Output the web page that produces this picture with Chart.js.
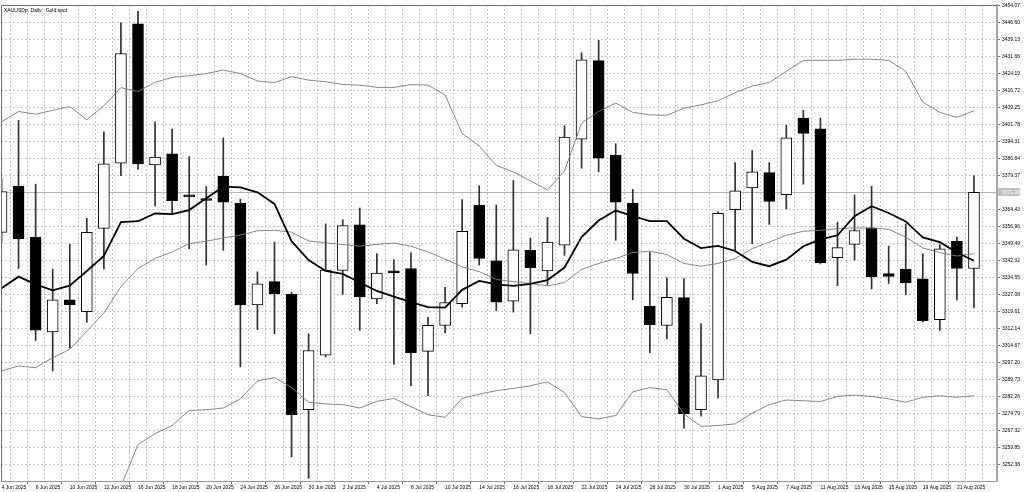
<!DOCTYPE html>
<html>
<head>
<meta charset="utf-8">
<title>XAUUSDp Daily</title>
<script src="https://cdn.jsdelivr.net/npm/chart.js@4.4.0/dist/chart.umd.min.js"></script>
<style>
  html, body { margin: 0; padding: 0; background: #fff; }
  #wrap { width: 1024px; height: 492px; }
</style>
</head>
<body>
<div id="wrap"><canvas id="chart" width="1024" height="492"></canvas></div>
<script>
// daily bars, 4 Jun 2025 - 22 Aug 2025
const dates = [
  '4 Jun 2025', '5 Jun 2025', '6 Jun 2025', '9 Jun 2025', '10 Jun 2025', '11 Jun 2025', '12 Jun 2025', '13 Jun 2025',
  '16 Jun 2025', '17 Jun 2025', '18 Jun 2025', '19 Jun 2025', '20 Jun 2025', '23 Jun 2025', '24 Jun 2025', '25 Jun 2025',
  '26 Jun 2025', '27 Jun 2025', '30 Jun 2025', '1 Jul 2025', '2 Jul 2025', '3 Jul 2025', '4 Jul 2025', '7 Jul 2025',
  '8 Jul 2025', '9 Jul 2025', '10 Jul 2025', '11 Jul 2025', '14 Jul 2025', '15 Jul 2025', '16 Jul 2025', '17 Jul 2025',
  '18 Jul 2025', '21 Jul 2025', '22 Jul 2025', '23 Jul 2025', '24 Jul 2025', '25 Jul 2025', '28 Jul 2025', '29 Jul 2025',
  '30 Jul 2025', '31 Jul 2025', '1 Aug 2025', '4 Aug 2025', '5 Aug 2025', '6 Aug 2025', '7 Aug 2025', '8 Aug 2025',
  '11 Aug 2025', '12 Aug 2025', '13 Aug 2025', '14 Aug 2025', '15 Aug 2025', '18 Aug 2025', '19 Aug 2025', '20 Aug 2025',
  '21 Aug 2025', '22 Aug 2025'
];

const opens = [
  3354.4, 3374.7, 3352.3, 3310.6, 3324.7, 3319.5, 3356.1, 3384.9, 3446.2, 3384.1,
  3389.0, 3370.2, 3368.6, 3379.1, 3367.2, 3322.5, 3332.7, 3327.1, 3276.3, 3300.3,
  3337.6, 3357.7, 3325.1, 3337.5, 3338.5, 3302.0, 3313.4, 3323.0, 3366.3, 3341.9,
  3324.1, 3346.5, 3337.4, 3348.7, 3395.4, 3430.0, 3388.3, 3367.3, 3321.8, 3313.4,
  3325.7, 3276.3, 3289.4, 3364.4, 3374.0, 3380.7, 3371.0, 3404.7, 3400.0, 3343.2,
  3349.1, 3356.4, 3336.2, 3338.1, 3333.9, 3316.0, 3350.5, 3338.5
];
const highs = [
  3378.0, 3403.7, 3375.6, 3338.2, 3349.1, 3360.6, 3398.6, 3446.6, 3451.7, 3403.0,
  3399.9, 3387.7, 3374.6, 3396.0, 3369.0, 3337.0, 3350.1, 3328.0, 3309.7, 3358.1,
  3360.0, 3365.1, 3345.0, 3342.4, 3345.5, 3317.0, 3330.2, 3368.8, 3374.9, 3366.4,
  3377.2, 3351.9, 3361.0, 3401.3, 3433.4, 3438.9, 3393.4, 3373.3, 3345.5, 3334.4,
  3334.1, 3314.2, 3363.5, 3385.1, 3390.4, 3385.1, 3401.5, 3408.1, 3404.7, 3358.9,
  3370.8, 3374.7, 3348.4, 3358.1, 3345.0, 3349.0, 3352.3, 3379.3
];
const lows = [
  3350.0, 3338.5, 3306.8, 3293.4, 3303.6, 3314.8, 3338.2, 3379.3, 3382.1, 3365.9,
  3362.5, 3347.2, 3340.0, 3346.5, 3295.2, 3311.6, 3309.7, 3255.6, 3246.1, 3299.5,
  3327.1, 3311.3, 3323.0, 3296.3, 3286.9, 3282.5, 3310.1, 3321.5, 3340.0, 3319.9,
  3319.3, 3309.7, 3331.2, 3344.3, 3382.6, 3381.1, 3350.9, 3324.7, 3301.4, 3307.5,
  3268.2, 3273.5, 3281.5, 3346.5, 3349.4, 3357.9, 3364.7, 3375.6, 3340.5, 3330.9,
  3342.2, 3329.5, 3331.9, 3326.9, 3315.0, 3311.2, 3324.7, 3321.3
];
const closes = [
  3372.3, 3351.5, 3311.3, 3324.7, 3322.6, 3354.4, 3384.5, 3433.1, 3384.5, 3387.5,
  3368.3, 3370.0, 3368.4, 3367.7, 3322.5, 3331.7, 3327.3, 3274.2, 3302.4, 3337.8,
  3357.4, 3326.0, 3336.5, 3336.5, 3301.4, 3313.5, 3323.5, 3354.8, 3342.9, 3323.7,
  3346.7, 3338.9, 3350.1, 3396.3, 3430.3, 3387.1, 3367.7, 3336.3, 3313.8, 3325.8,
  3274.5, 3291.2, 3362.8, 3372.7, 3381.0, 3368.0, 3396.0, 3397.9, 3341.1, 3347.7,
  3355.2, 3334.9, 3335.0, 3332.3, 3315.5, 3347.1, 3338.5, 3371.96
];

// indicator lines
const maLine = [
  3329.8, 3334.9, 3331.5, 3328.9, 3330.9, 3337.4, 3344.0, 3358.9, 3359.3, 3362.7,
  3362.4, 3364.2, 3369.4, 3374.5, 3374.2, 3372.0, 3366.9, 3350.5, 3342.2, 3337.4,
  3336.1, 3332.3, 3328.6, 3326.1, 3323.7, 3321.5, 3321.3, 3329.1, 3333.0, 3331.5,
  3330.8, 3331.7, 3333.4, 3338.9, 3352.3, 3359.6, 3364.0, 3361.6, 3359.3, 3359.3,
  3351.6, 3347.5, 3348.4, 3346.2, 3341.4, 3339.5, 3342.4, 3348.3, 3351.3, 3353.1,
  3361.5, 3365.9, 3362.9, 3359.2, 3352.2, 3350.1, 3345.5, 3341.9
];
const bandUpper = [
  3403.0, 3407.6, 3406.4, 3408.1, 3409.8, 3404.0, 3410.1, 3418.1, 3416.4, 3420.4,
  3422.6, 3423.3, 3424.3, 3425.8, 3424.3, 3421.0, 3420.3, 3422.9, 3421.4, 3420.7,
  3419.5, 3419.2, 3418.2, 3418.2, 3419.4, 3419.2, 3414.9, 3397.9, 3392.4, 3383.9,
  3381.0, 3377.1, 3373.1, 3381.4, 3402.5, 3407.6, 3411.3, 3407.2, 3406.1, 3405.9,
  3409.1, 3410.5, 3412.3, 3415.9, 3418.8, 3420.3, 3425.3, 3430.1, 3430.1, 3430.1,
  3430.6, 3430.6, 3430.1, 3425.3, 3411.7, 3407.2, 3405.0, 3407.9
];
const bandMiddle = [
  3293.4, 3295.6, 3294.8, 3299.2, 3302.9, 3310.9, 3318.9, 3330.5, 3338.5, 3342.9,
  3345.8, 3349.4, 3350.5, 3351.9, 3353.2, 3355.1, 3355.3, 3354.5, 3350.6, 3349.8,
  3349.0, 3348.3, 3349.1, 3349.7, 3348.3, 3345.8, 3342.6, 3339.2, 3337.1, 3333.7,
  3332.7, 3331.9, 3330.8, 3332.3, 3338.1, 3340.7, 3342.9, 3345.5, 3346.1, 3344.6,
  3340.7, 3339.5, 3340.7, 3342.9, 3347.2, 3350.1, 3353.1, 3354.9, 3355.3, 3356.0,
  3356.3, 3356.3, 3355.7, 3352.3, 3347.5, 3345.5, 3344.0, 3345.0
];
const bandLower = [
  3184.0, 3184.0, 3183.0, 3190.0, 3196.0, 3218.0, 3227.0, 3242.6, 3261.0, 3265.8,
  3269.4, 3276.0, 3276.3, 3277.1, 3281.1, 3289.0, 3290.5, 3286.1, 3279.6, 3278.9,
  3278.6, 3277.1, 3280.0, 3281.3, 3277.7, 3274.1, 3273.0, 3281.3, 3283.2, 3284.7,
  3285.7, 3286.9, 3288.6, 3283.9, 3273.3, 3272.3, 3273.8, 3284.2, 3286.1, 3285.1,
  3274.5, 3269.0, 3269.4, 3270.1, 3274.8, 3278.6, 3280.6, 3280.3, 3279.9, 3282.2,
  3282.8, 3282.2, 3281.1, 3279.6, 3281.8, 3282.5, 3281.8, 3282.5
];

const priceTicks = [
  3252.38, 3259.85, 3267.32, 3274.79, 3282.26, 3289.73, 3297.20, 3304.67, 3312.14, 3319.61,
  3327.08, 3334.55, 3342.02, 3349.49, 3356.96, 3364.43, 3371.90, 3379.37, 3386.84, 3394.31,
  3401.78, 3409.25, 3416.72, 3424.19, 3431.66, 3439.13, 3446.60, 3454.07
];

const chartTitle = 'XAUUSDp, Daily:  Gold spot';
const fontFamily = "'Liberation Sans', Arial, sans-serif";

const bodies = dates.map((d, i) => ({ x: i, y: [opens[i], closes[i]] }));
const wicks = dates.map((d, i) => ({ x: i, y: [lows[i], highs[i]] }));
const bodyColors = dates.map((d, i) => closes[i] >= opens[i] ? '#ffffff' : '#000000');
const toPoints = arr => arr.map((v, i) => ({ x: i, y: v }));

// frame, title, bid line and bid label
const chartFrame = {
  id: 'chartFrame',
  beforeDatasetsDraw(chart) {
    const { ctx, chartArea: a, scales: { y } } = chart;
    const py = Math.round(y.getPixelForValue(closes[closes.length - 1])) + 0.5;
    ctx.save();
    ctx.strokeStyle = '#b4b4b4';
    ctx.lineWidth = 1;
    ctx.beginPath();
    ctx.moveTo(a.left, py);
    ctx.lineTo(a.right, py);
    ctx.stroke();
    ctx.restore();
  },
  afterDraw(chart) {
    const { ctx, chartArea: a, scales: { y } } = chart;
    ctx.save();
    ctx.strokeStyle = '#6e6e6e';
    ctx.lineWidth = 1;
    ctx.beginPath();
    ctx.moveTo(a.left + 0.5, a.bottom);
    ctx.lineTo(a.left + 0.5, a.top + 0.5);
    ctx.lineTo(a.right, a.top + 0.5);
    ctx.stroke();

    ctx.fillStyle = '#000';
    ctx.font = '5px ' + fontFamily;
    ctx.textBaseline = 'top';
    ctx.textAlign = 'left';
    ctx.fillText(chartTitle, a.left + 3, a.top + 3);

    const last = closes[closes.length - 1];
    const py = Math.round(y.getPixelForValue(last));
    ctx.fillStyle = '#c0c0c0';
    ctx.fillRect(a.right + 1, py - 4, 22, 8);
    ctx.fillStyle = '#ffffff';
    ctx.textBaseline = 'middle';
    ctx.fillText(last.toFixed(2), a.right + 5, py + 0.5);
    ctx.restore();
  }
};

const ctx = document.getElementById('chart').getContext('2d');

const myChart = new Chart(ctx, {
  type: 'bar',
  data: {
    datasets: [
      {
        type: 'line',
        label: 'MA',
        data: toPoints(maLine),
        borderColor: '#000000',
        borderWidth: 1.8,
        pointRadius: 0,
        tension: 0,
        order: 0
      },
      {
        type: 'line',
        label: 'Upper band',
        data: toPoints(bandUpper),
        borderColor: '#7a7a7a',
        borderWidth: 0.9,
        pointRadius: 0,
        tension: 0,
        order: 0
      },
      {
        type: 'line',
        label: 'Middle band',
        data: toPoints(bandMiddle),
        borderColor: '#7a7a7a',
        borderWidth: 0.9,
        pointRadius: 0,
        tension: 0,
        order: 0
      },
      {
        type: 'line',
        label: 'Lower band',
        data: toPoints(bandLower),
        borderColor: '#7a7a7a',
        borderWidth: 0.9,
        pointRadius: 0,
        tension: 0,
        order: 0
      },
      {
        label: 'Body',
        data: bodies,
        backgroundColor: bodyColors,
        borderColor: '#000000',
        borderWidth: 1,
        borderSkipped: false,
        barThickness: 11,
        minBarLength: 2,
        grouped: false,
        order: 1
      },
      {
        label: 'Wick',
        data: wicks,
        backgroundColor: '#303030',
        borderWidth: 0,
        barThickness: 1,
        grouped: false,
        order: 2
      }
    ]
  },
  options: {
    responsive: false,
    animation: false,
    layout: { padding: { left: 1, top: 1, right: 0, bottom: 0 } },
    plugins: {
      legend: { display: false },
      tooltip: { enabled: false }
    },
    scales: {
      x: {
        type: 'linear',
        min: -0.03,
        max: 58.35,
        offset: false,
        afterBuildTicks: scale => { scale.ticks = dates.map((d, i) => ({ value: i })); },
        afterFit: scale => { scale.height = 11; },
        ticks: {
          autoSkip: false,
          maxRotation: 0,
          align: 'start',
          padding: 1,
          color: '#000',
          font: { family: fontFamily, size: 5 },
          callback: (v, i) => i % 2 === 0 ? dates[i] : ''
        },
        grid: {
          color: '#c8c8c8',
          tickLength: 3,
          tickColor: c => c.index % 2 === 0 ? '#707070' : 'rgba(0,0,0,0)',
          tickBorderDash: []
        },
        border: { display: true, color: '#9a9a9a', width: 1, dash: [2, 2] }
      },
      y: {
        type: 'linear',
        position: 'right',
        min: 3244.96,
        max: 3454.46,
        afterBuildTicks: scale => { scale.ticks = priceTicks.map(v => ({ value: v })); },
        afterFit: scale => { scale.width = 27; },
        ticks: {
          padding: 2,
          color: '#000',
          font: { family: fontFamily, size: 5 },
          callback: v => v.toFixed(2)
        },
        grid: {
          color: '#c8c8c8',
          tickLength: 3,
          tickColor: '#707070',
          tickBorderDash: []
        },
        border: { display: true, color: '#a8a8a8', width: 2, dash: [2, 2] }
      }
    }
  },
  plugins: [chartFrame]
});
</script>
</body>
</html>
